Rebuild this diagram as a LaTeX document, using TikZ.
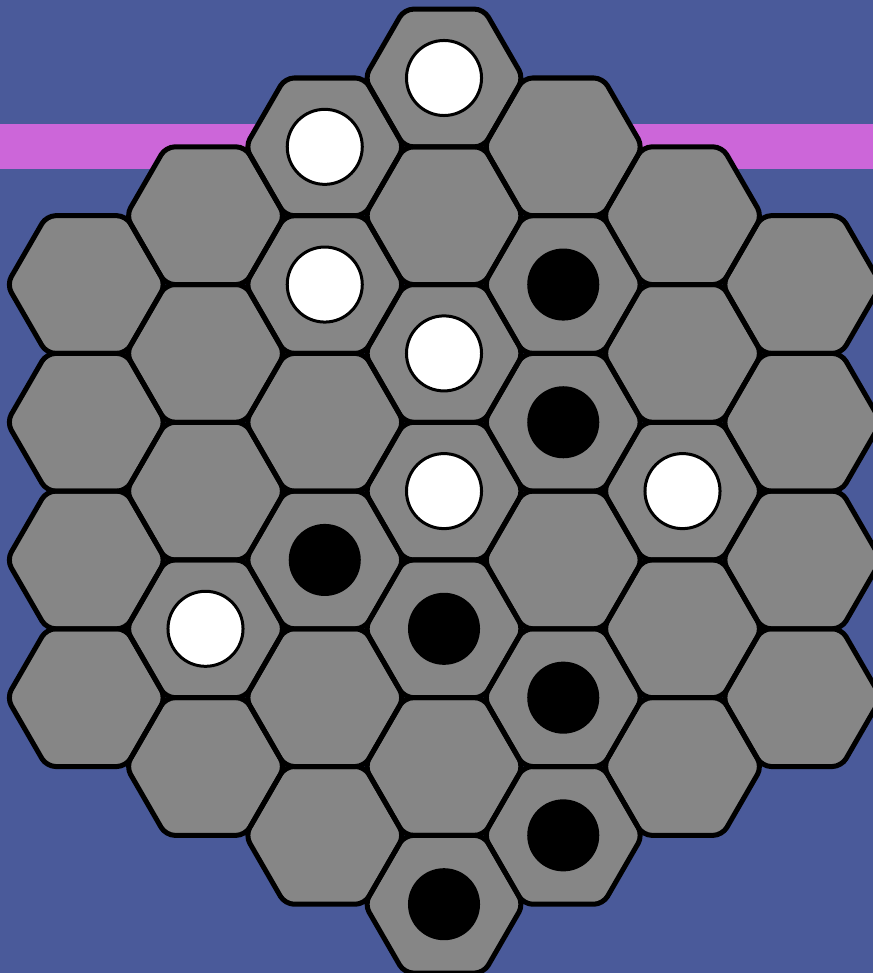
\documentclass[tikz,border=0pt]{standalone}
\usepackage{tikz}

\definecolor{boardbg}{RGB}{74,90,154}
\definecolor{stripe}{RGB}{204,102,217}
\definecolor{cellgray}{RGB}{134,134,134}

\tikzset{
  hexfill/.style={fill=cellgray, rounded corners=0.09cm},
  hexline/.style={draw=black, line width=0.05cm, rounded corners=0.09cm, line join=round},
  whitestone/.style={circle, draw=black, fill=white, line width=0.03cm, minimum size=0.75cm, inner sep=0pt},
  blackstone/.style={circle, fill=black, minimum size=0.72cm, inner sep=0pt}
}

\begin{document}
\begin{tikzpicture}[x=0.01cm, y=-0.01cm]
  \useasboundingbox (0,0) rectangle (873,973);
  \fill[boardbg] (0,0) rectangle (873,973);
  \fill[stripe] (0,124) rectangle (873,169);

  % cells: column / number of cells / first half-row
  \foreach \c/\n/\s in {1/4/3, 2/5/2, 3/6/1, 4/7/0, 5/6/1, 6/5/2, 7/4/3} {
    \foreach \j in {1,...,\n} {
      \pgfmathsetmacro\cx{444+119.25*(\c-4)}
      \pgfmathsetmacro\cy{78+68.85*(\s+2*(\j-1))}
      \coordinate (h\c-\j) at (\cx,\cy);
      \fill[hexfill] (h\c-\j) +(0:79.5) -- +(60:79.5) -- +(120:79.5) -- +(180:79.5) -- +(240:79.5) -- +(300:79.5) -- cycle;
    }
  }
  \foreach \c/\n in {1/4, 2/5, 3/6, 4/7, 5/6, 6/5, 7/4} {
    \foreach \j in {1,...,\n} {
      \draw[hexline] (h\c-\j) +(0:79.5) -- +(60:79.5) -- +(120:79.5) -- +(180:79.5) -- +(240:79.5) -- +(300:79.5) -- cycle;
    }
  }

  % stones
  \foreach \p in {4-1, 3-1, 3-2, 4-3, 4-4, 6-3, 2-4} {
    \node[whitestone] (w\p) at (h\p) {};
  }
  \foreach \p in {5-2, 5-3, 3-4, 4-5, 5-5, 5-6, 4-7} {
    \node[blackstone] (b\p) at (h\p) {};
  }
\end{tikzpicture}
\end{document}
